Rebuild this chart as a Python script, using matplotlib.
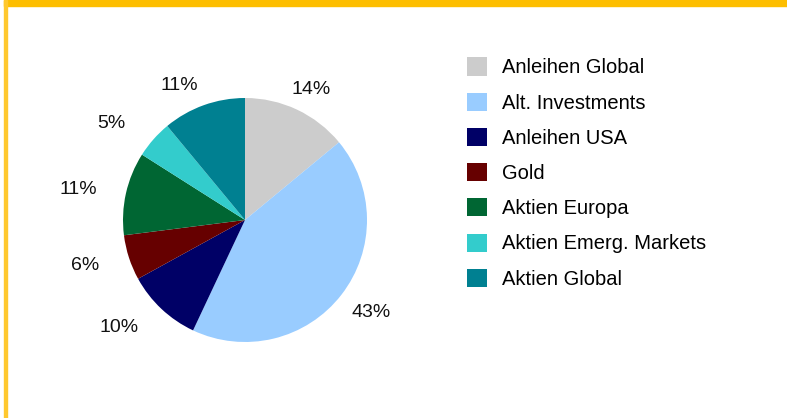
import matplotlib
matplotlib.use("Agg")
import matplotlib.pyplot as plt
import matplotlib.patches as mpatches
import numpy as np

plt.rcParams["font.family"] = ["Liberation Sans", "DejaVu Sans"]

# ── Data ──────────────────────────────────────────────────────────────────────
labels = ["Anleihen Global", "Alt. Investments", "Anleihen USA", "Gold",
          "Aktien Europa", "Aktien Emerg. Markets", "Aktien Global"]
shares = [14, 43, 10, 6, 11, 5, 11]
colors = ["#CCCCCC", "#99CCFF", "#000066", "#660000",
          "#006633", "#33CCCC", "#008091"]

# label placement (radius factor, angular nudge in degrees) -- style only
label_r = [1.20, 1.28, 1.36, 1.36, 1.39, 1.35, 1.23]
label_nudge = [-1.6, 1.5, -6.4, -2.1, 2.1, 5.7, 6.3]

W, H = 787, 418
fig = plt.figure(figsize=(W / 100, H / 100), dpi=100, facecolor="white")

# yellow frame (top bar + left rule)
fig.patches.append(mpatches.Rectangle((4 / W, 1 - 6 / H), 1, 6 / H,
                                      transform=fig.transFigure,
                                      color="#FDBE00", zorder=5))
fig.patches.append(mpatches.Rectangle((4 / W, 0), 2.5 / W, 1,
                                      transform=fig.transFigure,
                                      color="#FFC82E", zorder=5))

# ── Pie ───────────────────────────────────────────────────────────────────────
cx, cy, r = 245, 220, 122
ax = fig.add_axes([(cx - r) / W, (H - cy - r) / H, 2 * r / W, 2 * r / H])
wedges, _ = ax.pie(shares, colors=colors, startangle=90,
                   counterclock=False, radius=1,
                   wedgeprops=dict(linewidth=0))

for w, v, lr, dn in zip(wedges, shares, label_r, label_nudge):
    ang = np.deg2rad((w.theta1 + w.theta2) / 2 + dn)
    ax.text(lr * np.cos(ang), lr * np.sin(ang), f"{v}%",
            ha="center", va="center", fontsize=14, color="#111111",
            clip_on=False)

ax.set_xlim(-1, 1)
ax.set_ylim(-1, 1)
ax.set_aspect("equal")
ax.axis("off")

# ── Legend ────────────────────────────────────────────────────────────────────
handles = [mpatches.Patch(facecolor=c, edgecolor="none") for c in colors]
fig.legend(handles, labels, loc="upper left",
           bbox_to_anchor=(467 / W, 1 - 57.5 / H),
           frameon=False, fontsize=14.5, handlelength=1.0, handleheight=1.0,
           handletextpad=0.75, labelspacing=0.76, borderaxespad=0,
           borderpad=0)

fig.savefig("out.png", dpi=100, facecolor="white")
